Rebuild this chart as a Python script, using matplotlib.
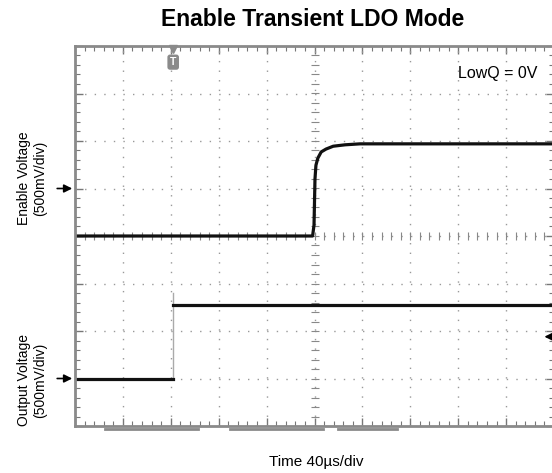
import matplotlib
matplotlib.use("Agg")
from matplotlib import pyplot as plt
import numpy as np

plt.rcParams["font.family"] = ["Liberation Sans", "DejaVu Sans"]

# scope traces, in divisions (x: 0..10 time div, y: -4..4 volt div)
enable_t = [0, 4.96, 4.99, 5.01, 5.03, 5.07, 5.14, 5.24, 5.39, 5.64, 5.95, 10]
enable_v = [0, 0, 0.23, 1.2, 1.49, 1.64, 1.77, 1.83, 1.89, 1.92, 1.94, 1.94]
output_t = [0, 2.05, 2.05, 10]
output_v = [-3, -3, -1.45, -1.45]
enable_marker = 1.0
output_marker = -3.0
trigger_t = 2.05

fig = plt.figure(figsize=(5.52, 4.73), dpi=100)
ax = fig.add_axes([75 / 552, 47 / 473, 479 / 552, 380 / 473])
ax.set_xlim(0, 10)
ax.set_ylim(-4, 4)

# frame + ticks
for s in ax.spines.values():
    s.set_color("#8a8a8a")
    s.set_linewidth(2)
ax.set_xticks(np.arange(0, 11, 1))
ax.set_yticks(np.arange(-4, 5, 1))
ax.set_xticks(np.arange(0, 10.01, 0.2), minor=True)
ax.set_yticks(np.arange(-4, 4.01, 0.2), minor=True)
ax.tick_params(which="both", direction="in", top=True, right=True,
               labelbottom=False, labelleft=False, color="#777777")
ax.tick_params(which="major", length=6, width=1)
ax.tick_params(which="minor", length=3.5, width=0.8)

# dotted graticule
dots = (0, (1, 5.9))
for x in range(1, 10):
    ax.axvline(x, color="#999999", lw=1, ls=dots)
for y in range(-3, 4):
    ax.axhline(y, color="#999999", lw=1, ls=dots)
# center axes tick marks
minor = np.arange(0, 10.01, 0.2)
ax.plot(minor, np.zeros_like(minor), ls="none", marker="|", ms=6, color="#888888", mew=0.8)
minor_y = np.arange(-4, 4.01, 0.2)
ax.plot(np.full_like(minor_y, 5), minor_y, ls="none", marker="_", ms=6, color="#888888", mew=0.8)

# traces
ax.plot([trigger_t, trigger_t], [output_v[0], -1.2], color="#aaaaaa", lw=1)
ax.plot(enable_t, enable_v, color="#111111", lw=2.3, solid_joinstyle="round")
ax.plot(output_t[2:], output_v[2:], color="#111111", lw=2.3)
ax.plot(output_t[:2], output_v[:2], color="#111111", lw=2.3)

# trigger marker
ax.plot([trigger_t], [3.93], marker="v", ms=6, color="#8a8a8a", clip_on=False)
ax.text(trigger_t, 3.66, "T", ha="center", va="center", color="white", fontsize=7.5,
        fontweight="bold",
        bbox=dict(boxstyle="round,pad=0.25", fc="#8a8a8a", ec="none"))

# channel arrows
for yv in [enable_marker, output_marker]:
    ax.annotate("", xy=(0, yv), xytext=(-0.43, yv), annotation_clip=False,
                arrowprops=dict(arrowstyle="-|>", color="black", lw=1.2, mutation_scale=12))
ax.annotate("", xy=(9.8, -2.12), xytext=(10.0, -2.12), annotation_clip=False,
            arrowprops=dict(arrowstyle="-|>", color="black", lw=1.2, mutation_scale=12,
                            shrinkA=0, shrinkB=0))

# bottom bars
for a, b in [(0.63, 2.57), (3.23, 5.18), (5.49, 6.72)]:
    ax.plot([a, b], [-4.06, -4.06], color="#8a8a8a", lw=2, clip_on=False)

ax.text(8.0, 3.43, "LowQ = 0V", fontsize=11.5, va="center", ha="left")

fig.text(313 / 552, 1 - 20 / 473, "Enable Transient LDO Mode", ha="center", va="center",
         fontsize=16.5, fontweight="bold")
fig.text(316 / 552, 1 - 462 / 473, "Time 40µs/div", ha="center", va="center", fontsize=11)
fig.text(32 / 552, 1 - 178 / 473, "Enable Voltage\n(500mV/div)", rotation=90,
         ha="center", va="center", multialignment="center", fontsize=10)
fig.text(32 / 552, 1 - 380 / 473, "Output Voltage\n(500mV/div)", rotation=90,
         ha="center", va="center", multialignment="center", fontsize=10)

fig.savefig("out.png", dpi=100)
